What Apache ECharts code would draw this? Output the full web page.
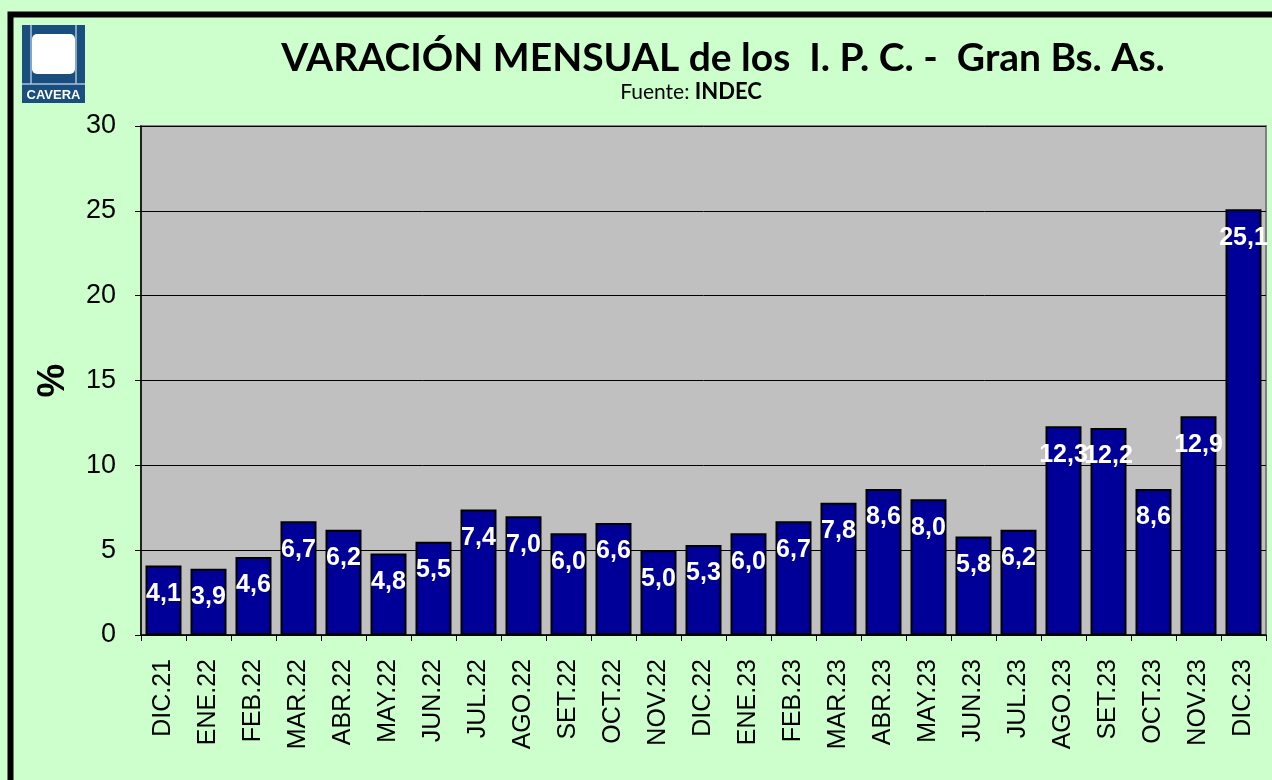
<!DOCTYPE html>
<html><head><meta charset="utf-8">
<script src="https://cdn.jsdelivr.net/npm/echarts@6/dist/echarts.min.js"></script>
<style>html,body{margin:0;padding:0;background:#fff}#c{width:1272px;height:780px}</style>
</head><body><div id="c"></div>
<script>
const categories = ['DIC.21','ENE.22','FEB.22','MAR.22','ABR.22','MAY.22','JUN.22','JUL.22','AGO.22','SET.22','OCT.22','NOV.22','DIC.22','ENE.23','FEB.23','MAR.23','ABR.23','MAY.23','JUN.23','JUL.23','AGO.23','SET.23','OCT.23','NOV.23','DIC.23'];
const ipcValues = [4.1,3.9,4.6,6.7,6.2,4.8,5.5,7.4,7.0,6.0,6.6,5.0,5.3,6.0,6.7,7.8,8.6,8.0,5.8,6.2,12.3,12.2,8.6,12.9,25.1];
const titleText = 'VARACIÓN MENSUAL de los  I. P. C. -  Gran Bs. As.';

const chart = echarts.init(document.getElementById('c'));
chart.setOption({
  backgroundColor: '#CCFFCC',
  animation: false,
  graphic: [
    {type:'rect', shape:{x:10.5,y:14.5,width:1270,height:780}, style:{fill:'none', stroke:'#000', lineWidth:6}, z:100},
    {type:'rect', shape:{x:22,y:25,width:63,height:78}, style:{fill:'#1A4E7E'}},
    {type:'line', shape:{x1:31,y1:25,x2:31,y2:84}, style:{stroke:'#A9C4DB', lineWidth:1.5}},
    {type:'line', shape:{x1:76,y1:25,x2:76,y2:84}, style:{stroke:'#A9C4DB', lineWidth:1.5}},
    {type:'line', shape:{x1:22,y1:84,x2:85,y2:84}, style:{stroke:'#A9C4DB', lineWidth:1.5}},
    {type:'rect', shape:{x:32,y:34,width:43,height:40, r:5}, style:{fill:'#fff'}},
    {type:'text', style:{text:'CAVERA', x:53.5, y:95, fill:'#fff', font:'bold 13px "Liberation Sans"', textAlign:'center', textVerticalAlign:'middle'}}
  ],
  title: [
    {text: titleText, left: 718, top: 34, textAlign:'center',
     textStyle:{fontFamily:'Lato', fontWeight:'bold', fontSize:39, color:'#000'}},
    {text: '{a|Fuente: }{b|INDEC}', left: 686, top: 76, textAlign:'center',
     textStyle:{fontWeight:'normal', rich:{a:{fontFamily:'Lato', fontSize:21, fontWeight:'normal', color:'#000'}, b:{fontFamily:'Lato', fontSize:22, fontWeight:'bold', color:'#000'}}}}
  ],
  grid: {left:141, right:6, top:126, bottom:145, show:true, backgroundColor:'#C0C0C0', borderColor:'#808080', borderWidth:2},
  xAxis: {
    type:'category', data: categories,
    axisLine:{lineStyle:{color:'#000', width:1.5}},
    axisTick:{show:true, alignWithLabel:false, length:6, lineStyle:{color:'#000'}},
    axisLabel:{rotate:90, color:'#000', fontFamily:'Liberation Sans', fontSize:25, margin:24, interval:0}
  },
  yAxis: {
    type:'value', min:0, max:30, interval:5,
    name:'%', nameLocation:'middle', nameGap:68, nameRotate:90,
    nameTextStyle:{fontFamily:'Liberation Sans', fontWeight:'bold', fontSize:38, color:'#000'},
    axisLine:{show:true, lineStyle:{color:'#000', width:1.5}},
    axisTick:{show:true, length:6, lineStyle:{color:'#000'}},
    axisLabel:{color:'#000', fontFamily:'Liberation Sans', fontSize:27, margin:25},
    splitLine:{lineStyle:{color:'#000', width:1}}
  },
  series: [{
    type:'bar', data: ipcValues, barCategoryGap:'20%',
    itemStyle:{color:'#000099', borderColor:'#000', borderWidth:2},
    label:{show:true, position:'insideTop', distance:16, color:'#fff', fontFamily:'Liberation Sans', fontWeight:'bold', fontSize:25,
      formatter: p => p.value.toFixed(1).replace('.', ',')}
  }]
});
</script></body></html>
